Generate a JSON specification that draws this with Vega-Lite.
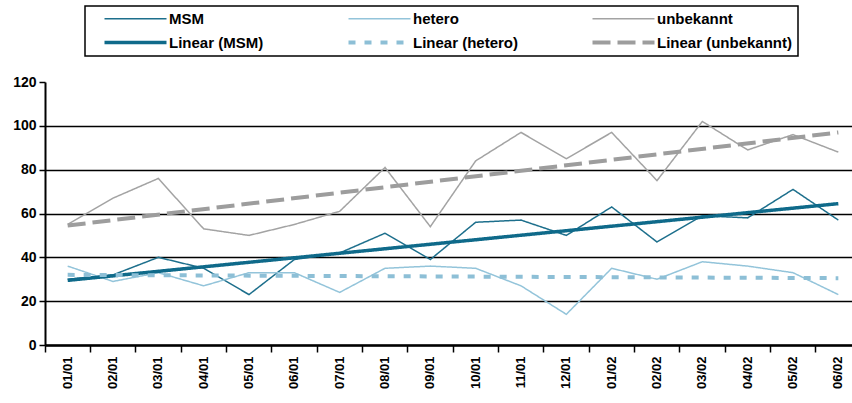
{
  "$schema": "https://vega.github.io/schema/vega-lite/v6.json",
  "width": 807,
  "height": 263,
  "autosize": "none",
  "padding": {"left": 45, "top": 82, "right": 0, "bottom": 58},
  "background": "white",
  "config": {
    "view": {"stroke": null},
    "font": "Liberation Sans",
    "axis": {"labelFont": "Liberation Sans", "labelColor": "black", "labelFontWeight": "bold", "labelFontSize": 13, "domainColor": "black", "tickColor": "black"},
    "legend": {
      "orient": "none", "legendX": 40, "legendY": -76, "direction": "horizontal",
      "columns": 3, "gridAlign": "all", "symbolType": "M-6.2,0H6.2", "symbolSize": 100, "symbolOffset": 38,
      "labelFont": "Liberation Sans", "labelFontSize": 15, "labelFontWeight": "bold", "labelColor": "black",
      "labelOffset": 26,
      "padding": 5, "strokeColor": "black", "strokeWidth": 1.5, "fillColor": "white",
      "rowPadding": 7, "columnPadding": 29, "title": null
    }
  },
  "data": {"values": [
    {"month": "01/01", "series": "MSM", "value": 30},
    {"month": "02/01", "series": "MSM", "value": 32},
    {"month": "03/01", "series": "MSM", "value": 40},
    {"month": "04/01", "series": "MSM", "value": 35},
    {"month": "05/01", "series": "MSM", "value": 23},
    {"month": "06/01", "series": "MSM", "value": 39},
    {"month": "07/01", "series": "MSM", "value": 42},
    {"month": "08/01", "series": "MSM", "value": 51},
    {"month": "09/01", "series": "MSM", "value": 39},
    {"month": "10/01", "series": "MSM", "value": 56},
    {"month": "11/01", "series": "MSM", "value": 57},
    {"month": "12/01", "series": "MSM", "value": 50},
    {"month": "01/02", "series": "MSM", "value": 63},
    {"month": "02/02", "series": "MSM", "value": 47},
    {"month": "03/02", "series": "MSM", "value": 59},
    {"month": "04/02", "series": "MSM", "value": 58},
    {"month": "05/02", "series": "MSM", "value": 71},
    {"month": "06/02", "series": "MSM", "value": 57},
    {"month": "01/01", "series": "hetero", "value": 36},
    {"month": "02/01", "series": "hetero", "value": 29},
    {"month": "03/01", "series": "hetero", "value": 33},
    {"month": "04/01", "series": "hetero", "value": 27},
    {"month": "05/01", "series": "hetero", "value": 33},
    {"month": "06/01", "series": "hetero", "value": 33},
    {"month": "07/01", "series": "hetero", "value": 24},
    {"month": "08/01", "series": "hetero", "value": 35},
    {"month": "09/01", "series": "hetero", "value": 36},
    {"month": "10/01", "series": "hetero", "value": 35},
    {"month": "11/01", "series": "hetero", "value": 27},
    {"month": "12/01", "series": "hetero", "value": 14},
    {"month": "01/02", "series": "hetero", "value": 35},
    {"month": "02/02", "series": "hetero", "value": 30},
    {"month": "03/02", "series": "hetero", "value": 38},
    {"month": "04/02", "series": "hetero", "value": 36},
    {"month": "05/02", "series": "hetero", "value": 33},
    {"month": "06/02", "series": "hetero", "value": 23},
    {"month": "01/01", "series": "unbekannt", "value": 55},
    {"month": "02/01", "series": "unbekannt", "value": 67},
    {"month": "03/01", "series": "unbekannt", "value": 76},
    {"month": "04/01", "series": "unbekannt", "value": 53},
    {"month": "05/01", "series": "unbekannt", "value": 50},
    {"month": "06/01", "series": "unbekannt", "value": 55},
    {"month": "07/01", "series": "unbekannt", "value": 61},
    {"month": "08/01", "series": "unbekannt", "value": 81},
    {"month": "09/01", "series": "unbekannt", "value": 54},
    {"month": "10/01", "series": "unbekannt", "value": 84},
    {"month": "11/01", "series": "unbekannt", "value": 97},
    {"month": "12/01", "series": "unbekannt", "value": 85},
    {"month": "01/02", "series": "unbekannt", "value": 97},
    {"month": "02/02", "series": "unbekannt", "value": 75},
    {"month": "03/02", "series": "unbekannt", "value": 102},
    {"month": "04/02", "series": "unbekannt", "value": 89},
    {"month": "05/02", "series": "unbekannt", "value": 96},
    {"month": "06/02", "series": "unbekannt", "value": 88},
    {"month": "01/01", "series": "Linear (MSM)", "value": 29.5},
    {"month": "06/02", "series": "Linear (MSM)", "value": 64.5},
    {"month": "01/01", "series": "Linear (hetero)", "value": 32},
    {"month": "06/02", "series": "Linear (hetero)", "value": 30.5},
    {"month": "01/01", "series": "Linear (unbekannt)", "value": 54.5},
    {"month": "06/02", "series": "Linear (unbekannt)", "value": 97}
  ]},
  "mark": {"type": "line", "strokeCap": "butt"},
  "encoding": {
    "x": {
      "field": "month", "type": "nominal", "bandPosition": 0.5,
      "scale": {"type": "band", "paddingInner": 0, "paddingOuter": 0, "range": [0, 816],
        "domain": ["01/01","02/01","03/01","04/01","05/01","06/01","07/01","08/01","09/01","10/01","11/01","12/01","01/02","02/02","03/02","04/02","05/02","06/02"]},
      "axis": {"title": null, "labelAngle": -90, "bandPosition": 0, "tickSize": 7, "tickWidth": 1.5, "domainWidth": 2.5, "labelPadding": 4, "grid": false}
    },
    "y": {
      "field": "value", "type": "quantitative",
      "scale": {"domain": [0, 120], "nice": false},
      "axis": {"title": null, "values": [0,20,40,60,80,100,120], "tickSize": 6, "tickWidth": 1.5, "domainWidth": 2, "labelPadding": 3, "labelFontSize": 14,
        "grid": true, "gridColor": {"condition": {"test": "datum.value === 120", "value": "transparent"}, "value": "black"}, "gridWidth": 1.3}
    },
    "color": {
      "field": "series", "type": "nominal",
      "scale": {"domain": ["MSM","hetero","unbekannt","Linear (MSM)","Linear (hetero)","Linear (unbekannt)"],
        "range": ["#1d6f8c","#93c4da","#a3a3a3","#0f6a8a","#8dbfd6","#9d9d9d"]}
    },
    "strokeDash": {
      "field": "series", "type": "nominal",
      "scale": {"domain": ["MSM","hetero","unbekannt","Linear (MSM)","Linear (hetero)","Linear (unbekannt)"],
        "range": [[1,0],[1,0],[1,0],[1,0],[7,9],[18,7]]}
    },
    "strokeWidth": {
      "field": "series", "type": "nominal",
      "scale": {"type": "ordinal", "domain": ["MSM","hetero","unbekannt","Linear (MSM)","Linear (hetero)","Linear (unbekannt)"],
        "range": [1.5,1.5,1.5,3.5,4,4]}
    }
  }
}
